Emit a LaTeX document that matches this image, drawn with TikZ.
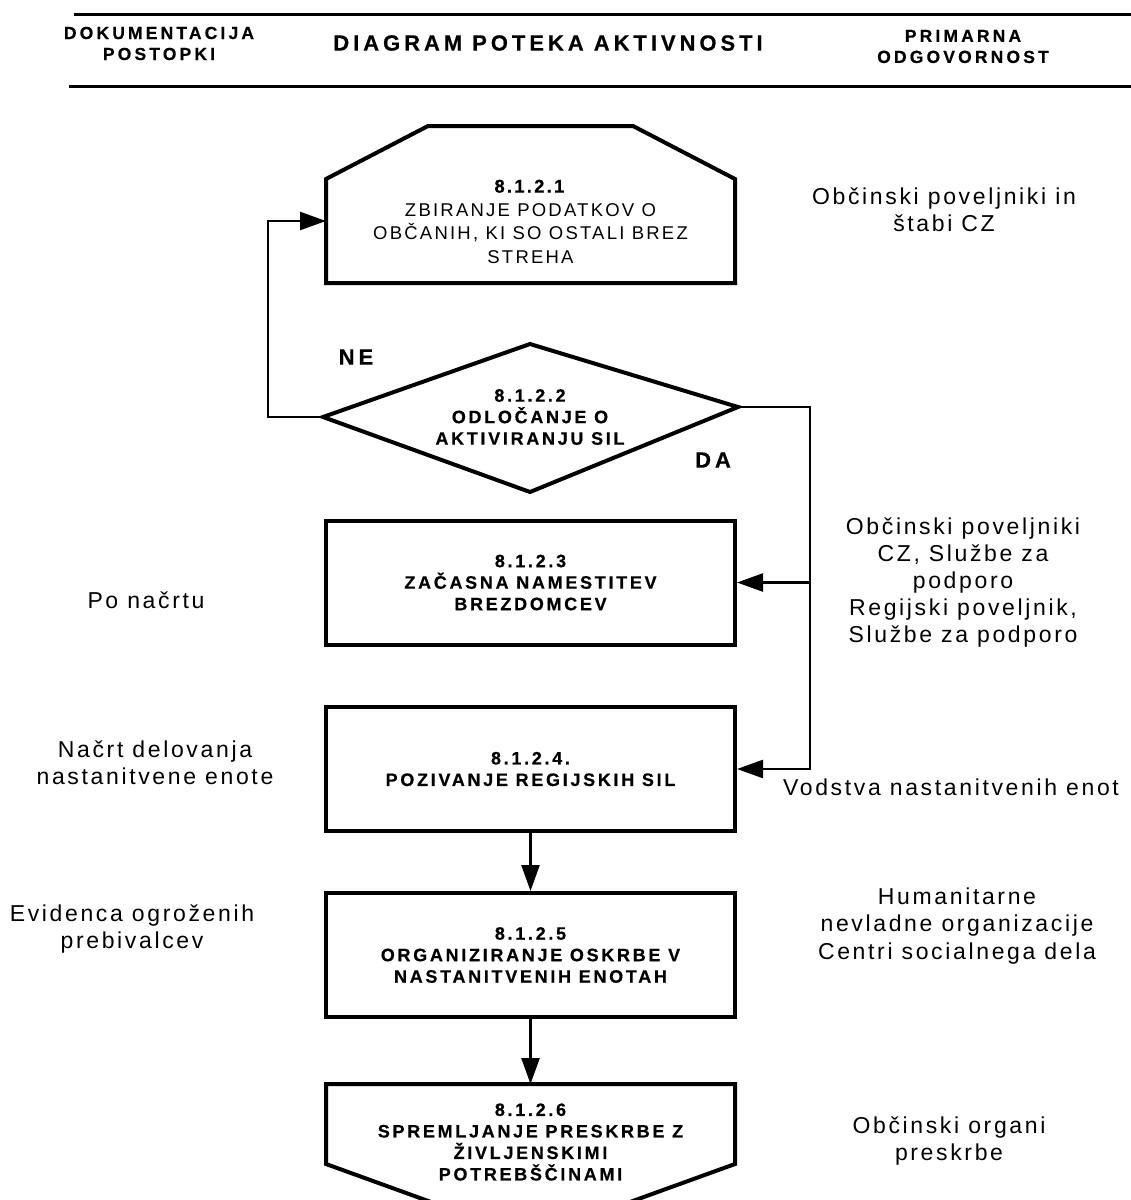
\documentclass[tikz,border=0pt]{standalone}
\usepackage{fontspec}
\setmainfont{Liberation Sans}
\newfontfamily\hdrfont{Liberation Sans}[LetterSpace=18, BoldFeatures={FakeBold=0.5}]
\newfontfamily\stepfont{Liberation Sans}[LetterSpace=15, BoldFeatures={FakeBold=0.5}]
\newfontfamily\hexfont{Liberation Sans}[LetterSpace=12, BoldFeatures={FakeBold=0.5}]
\newfontfamily\sidefont{Liberation Sans}[LetterSpace=11.5]
\usetikzlibrary{arrows.meta}

\begin{document}
\begin{tikzpicture}[x=1pt, y=-1pt,
  frame/.style = {line width=4pt, line join=miter},
  wire/.style = {line width=2.5pt},
  conn/.style = {wire, -{Triangle[length=26pt, width=18pt]}},
  steptext/.style = {align=center, font=\stepfont\bfseries\fontsize{18}{21.5}\selectfont},
  stepbox/.style = {steptext, draw, frame, minimum width=409pt, minimum height=124pt},
  hextext/.style = {align=center, font=\hexfont\fontsize{18.5}{23.5}\selectfont},
  side/.style = {align=center, font=\sidefont\fontsize{23}{27.2}\selectfont},
  hdr/.style = {align=center, font=\hdrfont\bfseries\fontsize{17.5}{21}\selectfont},
  big/.style = {font=\hdrfont\bfseries\fontsize{22}{25}\selectfont}
]
\useasboundingbox (0,0) rectangle (1131,1200);

% header
\draw[line width=3pt] (74,14) -- (1131,14);
\draw[line width=3pt] (69,86) -- (1131,86);
\node[hdr] (dok) at (159,43.5) {DOKUMENTACIJA\\POSTOPKI};
\node[big] (diag) at (548,43) {DIAGRAM POTEKA AKTIVNOSTI};
\node[hdr] (prim) at (963,46.5) {PRIMARNA\\ODGOVORNOST};

% 8.1.2.1
\coordinate (zbirL) at (326,221);
\draw[frame] (326,283) -- (326,179) -- (428,126) -- (633,126) -- (735,179) -- (735,283) -- cycle;
\node[hextext] (zbir) at (530.5,221.5) {\textbf{8.1.2.1}\\ZBIRANJE PODATKOV O\\OBČANIH, KI SO OSTALI BREZ\\STREHA};

% 8.1.2.2
\coordinate (odlT) at (530,344);
\coordinate (odlR) at (738,407);
\coordinate (odlB) at (530,492);
\coordinate (odlL) at (323,417);
\draw[frame] (odlT) -- (odlR) -- (odlB) -- (odlL) -- cycle;
\node[steptext] (odl) at (530,417) {8.1.2.2\\ODLOČANJE O\\AKTIVIRANJU SIL};
\node[big] (ne) at (356,357) {NE};
\node[big] (da) at (713,460) {DA};

% 8.1.2.3 - 8.1.2.5
\node[stepbox] (zacas) at (530.5,582.5) {8.1.2.3\\ZAČASNA NAMESTITEV\\BREZDOMCEV};
\node[stepbox] (poziv) at (530.5,769) {8.1.2.4.\\POZIVANJE REGIJSKIH SIL};
\node[stepbox] (organ) at (530.5,955) {8.1.2.5\\ORGANIZIRANJE OSKRBE V\\NASTANITVENIH ENOTAH};

% 8.1.2.6
\coordinate (spremT) at (530.5,1084);
\draw[frame] (326,1084) -- (735,1084) -- (735,1164) -- (530.5,1238) -- (326,1164) -- cycle;
\node[steptext] (sprem) at (530.5,1142) {8.1.2.6\\SPREMLJANJE PRESKRBE Z\\ŽIVLJENSKIMI\\POTREBŠČINAMI};

% connectors
\draw[conn] (odlL) -- (268,417) |- (zbirL);
\coordinate (daJ) at (810,582.5);
\draw[wire] (odlR) -| (daJ);
\draw[conn] (daJ) -- (zacas.east);
\draw[conn] (daJ) |- (poziv.east);
\draw[conn] (poziv.south) -- (organ.north);
\draw[conn] (organ.south) -- (spremT);

% documentation
\node[side] (nacrt) at (146,600) {Po načrtu};
\node[side] (delov) at (155,763) {Načrt delovanja\\nastanitvene enote};
\node[side] (evid) at (132,929) {Evidenca ogroženih\\prebivalcev};

% responsibility
\node[side] (odg1) at (944,210) {Občinski poveljniki in\\štabi CZ};
\node[side] (odg3) at (963,582.5) {Občinski poveljniki\\CZ, Službe za\\podporo\\Regijski poveljnik,\\Službe za podporo};
\node[side] (odg4) at (951,787) {Vodstva nastanitvenih enot};
\node[side] (odg5) at (957,926) {Humanitarne\\nevladne organizacije\\Centri socialnega dela};
\node[side] (odg6) at (949,1141) {Občinski organi\\preskrbe};
\end{tikzpicture}
\end{document}
